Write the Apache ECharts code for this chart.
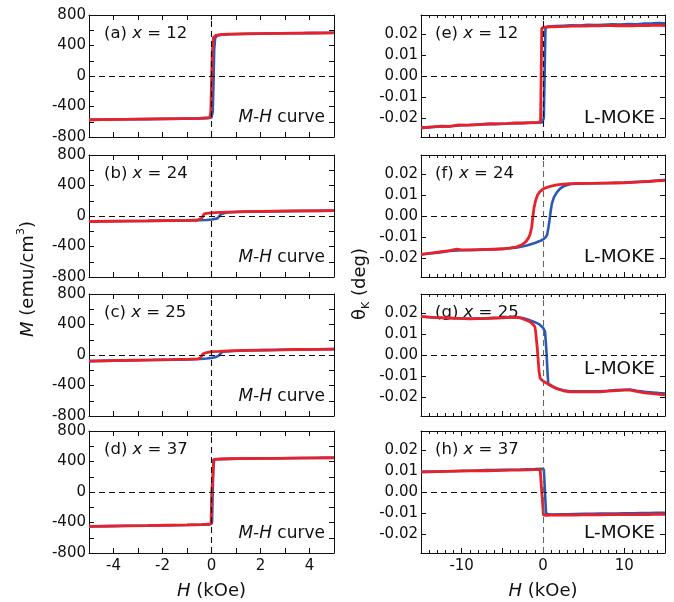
<!DOCTYPE html>
<html>
<head>
<meta charset="utf-8">
<script src="https://cdn.jsdelivr.net/npm/echarts@6/dist/echarts.min.js"></script>
<style>
html, body { margin: 0; padding: 0; background: #fff; }
#chart { width: 674px; height: 602px; }
</style>
</head>
<body>
<div id="chart"></div>
<script>
// M-H loops, H in kOe, M in emu/cm3. red = field sweep down, blue = sweep up
const redA = [[5,566],[4.2,564],[3.5,562],[2.8,560],[2,557],[1.3,553],[0.7,548],[0.35,541],[0.18,532],[0.08,505],[0.03,300],[0,-100],[-0.03,-480],[-0.07,-545],[-0.15,-552],[-0.5,-556],[-1.2,-559],[-2,-562],[-2.8,-565],[-3.6,-568],[-4.4,-571],[-5,-574]]
const blueA = [[-5,-575],[-4.3,-571],[-3.5,-568],[-2.7,-565],[-2,-562],[-1.2,-559],[-0.5,-556],[-0.15,-553],[0,-545],[0.05,-470],[0.08,-100],[0.11,350],[0.15,500],[0.25,532],[0.4,542],[0.8,548],[1.5,554],[2.2,557],[3,560],[3.8,562],[4.5,564],[5,567]]

const redB = [[5,70],[4.3,68],[3.5,66],[2.7,63],[2,60],[1.3,57],[0.7,52],[0.3,47],[0,42],[-0.2,35],[-0.3,27],[-0.36,15],[-0.4,-30],[-0.45,-50],[-0.6,-56],[-1,-58],[-1.8,-61],[-2.6,-64],[-3.4,-66],[-4.2,-69],[-5,-72]]
const blueB = [[-5,-73],[-4.2,-69],[-3.4,-66],[-2.6,-64],[-1.8,-61],[-1,-59],[-0.5,-56],[-0.2,-52],[0,-46],[0.15,-38],[0.25,-28],[0.32,-10],[0.38,22],[0.45,40],[0.6,46],[1,53],[1.6,57],[2.4,61],[3.2,64],[4,67],[5,70]]

const redC = [[5,77],[4.3,75],[3.5,72],[2.7,68],[2,65],[1.3,60],[0.7,54],[0.3,48],[0,44],[-0.2,30],[-0.35,16],[-0.42,8],[-0.45,-38],[-0.55,-50],[-0.9,-55],[-1.6,-60],[-2.4,-65],[-3.2,-69],[-4,-73],[-5,-80]]
const blueC = [[-5,-80],[-4,-74],[-3.2,-69],[-2.4,-65],[-1.6,-61],[-0.9,-57],[-0.45,-52],[-0.2,-45],[0,-38],[0.15,-30],[0.28,-12],[0.36,15],[0.45,42],[0.6,48],[0.9,53],[1.5,59],[2.2,64],[3,68],[4,73],[5,77]]

const redD = [[5,449],[4.2,447],[3.4,445],[2.6,442],[1.8,440],[1,437],[0.4,433],[0.1,429],[0.04,420],[0.01,0],[-0.02,-418],[-0.08,-424],[-0.4,-428],[-1,-432],[-1.8,-436],[-2.6,-440],[-3.4,-443],[-4.2,-447],[-5,-452]]
const blueD = [[-5,-452],[-4.2,-447],[-3.4,-443],[-2.6,-440],[-1.8,-436],[-1,-432],[-0.4,-428],[-0.08,-424],[0.02,-410],[0.05,0],[0.08,424],[0.2,430],[0.6,434],[1.2,438],[2,441],[2.8,443],[3.6,445],[4.4,447],[5,449]]

// L-MOKE loops, H in kOe, Kerr rotation in deg
const redE = [[15,0.0240],[14,0.0242],[13,0.0240],[12,0.0241],[11,0.0238],[10,0.0240],[9,0.0239],[8,0.0241],[7,0.0238],[6,0.0239],[5,0.0237],[4,0.0238],[3,0.0236],[2,0.0235],[1,0.0234],[0.2,0.0232],[-0.15,0.0228],[-0.3,-0.0215],[-0.6,-0.0221],[-1.5,-0.0222],[-2.5,-0.0224],[-3.5,-0.0223],[-4.5,-0.0226],[-5.5,-0.0228],[-6.5,-0.0227],[-7.5,-0.0230],[-8.5,-0.0232],[-9.5,-0.0234],[-10.5,-0.0233],[-11.5,-0.0240],[-12.5,-0.0238],[-13.5,-0.0242],[-14.3,-0.0245],[-15,-0.0246]]
const blueE = [[-15,-0.0245],[-14,-0.0243],[-13,-0.0241],[-12,-0.0240],[-11,-0.0238],[-10,-0.0234],[-9,-0.0233],[-8,-0.0231],[-7,-0.0229],[-6,-0.0229],[-5,-0.0227],[-4,-0.0226],[-3,-0.0224],[-2,-0.0223],[-1,-0.0222],[-0.1,-0.0221],[0.1,-0.0200],[0.3,0.0228],[0.6,0.0235],[1.5,0.0237],[2.5,0.0239],[3.5,0.0241],[4.5,0.0240],[5.5,0.0243],[6.5,0.0242],[7.5,0.0244],[8.5,0.0246],[9.5,0.0245],[10.5,0.0247],[11.5,0.0246],[12.5,0.0249],[13.5,0.0250],[14.3,0.0252],[15,0.0251]]

const redF = [[15,0.0170],[14,0.0167],[13,0.0164],[12,0.0162],[11,0.0160],[10,0.0158],[9,0.0157],[8,0.0156],[7,0.0156],[6,0.0155],[5,0.0155],[4,0.0154],[3.3,0.0154],[2.5,0.0152],[1.7,0.0148],[1,0.0142],[0.4,0.0135],[0,0.0128],[-0.4,0.0115],[-0.7,0.0097],[-0.9,0.0075],[-1.1,0.0040],[-1.25,-0.0005],[-1.4,-0.0056],[-1.6,-0.0088],[-1.8,-0.0105],[-2.1,-0.0122],[-2.6,-0.0137],[-3.3,-0.0148],[-4,-0.0152],[-5,-0.0157],[-6,-0.0158],[-7,-0.0159],[-8,-0.0160],[-9,-0.0161],[-10,-0.0161],[-10.6,-0.0158],[-11.5,-0.0165],[-12.5,-0.0170],[-13.5,-0.0175],[-14.3,-0.0179],[-15,-0.0182]]
const blueF = [[-15,-0.0183],[-14,-0.0178],[-13,-0.0174],[-11.5,-0.0166],[-10,-0.0163],[-8,-0.0161],[-6,-0.0158],[-4,-0.0153],[-3,-0.0148],[-2,-0.0140],[-1,-0.0128],[-0.3,-0.0118],[0,-0.0111],[0.3,-0.0102],[0.5,-0.0090],[0.65,-0.0060],[0.8,-0.0020],[0.95,0.0025],[1.1,0.0060],[1.35,0.0090],[1.7,0.0112],[2.1,0.0130],[2.6,0.0143],[3.3,0.0151],[4,0.0154],[5,0.0155],[6,0.0156],[7,0.0156],[8,0.0157],[9,0.0158],[10,0.0159],[11,0.0161],[12,0.0163],[13,0.0165],[14,0.0168],[15,0.0171]]

const redG = [[15,-0.0190],[14.3,-0.0187],[13.5,-0.0184],[12.5,-0.0180],[11.5,-0.0173],[10.7,-0.0167],[10,-0.0167],[9,-0.0169],[8,-0.0172],[7,-0.0175],[6,-0.0175],[5,-0.0174],[4,-0.0175],[3.3,-0.0175],[2.5,-0.0170],[1.7,-0.0160],[0.9,-0.0143],[0.4,-0.0133],[0,-0.0124],[-0.35,-0.0111],[-0.5,-0.0075],[-0.6,-0.0020],[-0.7,0.0030],[-0.8,0.0070],[-0.9,0.0110],[-1.0,0.0135],[-1.3,0.0148],[-1.6,0.0158],[-2.2,0.0168],[-2.8,0.0176],[-3.3,0.0180],[-4,0.0179],[-5,0.0177],[-6,0.0176],[-7,0.0174],[-8,0.0173],[-9,0.0172],[-10.4,0.0174],[-11.5,0.0176],[-12.5,0.0177],[-13.5,0.0179],[-14.3,0.0181],[-15,0.0182]]
const blueG = [[-15,0.0183],[-14.3,0.0181],[-13.5,0.0179],[-12.5,0.0177],[-11.5,0.0176],[-10.4,0.0175],[-9,0.0172],[-8,0.0173],[-7,0.0174],[-6,0.0176],[-5,0.0177],[-4,0.0179],[-3.3,0.0180],[-2.5,0.0176],[-1.8,0.0168],[-1,0.0156],[-0.5,0.0147],[0,0.0130],[0.25,0.0111],[0.35,0.0060],[0.45,0.0000],[0.55,-0.0080],[0.65,-0.0140],[0.8,-0.0148],[1.2,-0.0152],[1.8,-0.0160],[2.5,-0.0168],[3.3,-0.0172],[4,-0.0173],[5,-0.0172],[6,-0.0173],[7,-0.0172],[8,-0.0170],[9,-0.0167],[10,-0.0165],[10.7,-0.0164],[11.5,-0.0170],[12.5,-0.0175],[13.5,-0.0178],[14.3,-0.0181],[15,-0.0183]]

const redH = [[15,-0.0106],[14,-0.0105],[13,-0.0107],[12,-0.0106],[11,-0.0108],[10,-0.0107],[9,-0.0108],[8,-0.0107],[7,-0.0109],[6,-0.0108],[5,-0.0109],[4,-0.0110],[3,-0.0109],[2,-0.0110],[1,-0.0110],[0.3,-0.0111],[0.05,-0.0109],[-0.35,0.0106],[-1,0.0106],[-2,0.0105],[-3,0.0104],[-4,0.0104],[-5,0.0103],[-6,0.0102],[-7,0.0101],[-8,0.0101],[-9,0.0100],[-10,0.0099],[-11,0.0099],[-12,0.0098],[-13,0.0097],[-14,0.0096],[-15,0.0095]]
const blueH = [[-15,0.0096],[-14,0.0097],[-13,0.0097],[-12,0.0099],[-11,0.0099],[-10,0.0101],[-9,0.0101],[-8,0.0102],[-7,0.0104],[-6,0.0104],[-5,0.0105],[-4,0.0106],[-3,0.0106],[-2,0.0108],[-1,0.0109],[-0.3,0.0110],[0.1,0.0108],[0.38,-0.0104],[1,-0.0107],[2,-0.0106],[3,-0.0106],[4,-0.0105],[5,-0.0104],[6,-0.0104],[7,-0.0103],[8,-0.0103],[9,-0.0102],[10,-0.0101],[11,-0.0101],[12,-0.0100],[13,-0.0100],[14,-0.0099],[15,-0.0099]]

const tags = ['(a)', '(b)', '(c)', '(d)', '(e)', '(f)', '(g)', '(h)']
const xValues = [12, 24, 25, 37, 12, 24, 25, 37]
const reds = [redA, redB, redC, redD, redE, redF, redG, redH]
const blues = [blueA, blueB, blueC, blueD, blueE, blueF, blueG, blueH]

const mhTicks = [-800, -400, 0, 400, 800]
const mokeTicks = [-0.02, -0.01, 0, 0.01, 0.02]
const mhHLabels = [-4, -2, 0, 2, 4]
const mokeHLabels = [-10, 0, 10]

// layout
const font = 'DejaVu Sans'
const ink = '#111'
const redColor = '#e8212b'
const blueColor = '#2a58b4'
const tops = [15, 155, 294, 431]
const gridH = 122
const colLeft = [89, 421]
const colWidth = [245, 244]
const mokeLabelDy = [103, 102, 75, 102]

let grids = [], xAxes = [], yAxes = [], series = [], graphics = []

for (let i = 0; i < 8; i++) {
  const col = i < 4 ? 0 : 1
  const row = i % 4
  const mh = col === 0
  const left = colLeft[col]
  const top = tops[row]

  grids.push({ left: left, top: top, width: colWidth[col], height: gridH, outerBoundsMode: 'none' })

  ;['bottom', 'top'].forEach(pos => {
    xAxes.push({
      type: 'value', gridIndex: i, position: pos,
      min: mh ? -5 : -15, max: mh ? 5 : 15, interval: mh ? 1 : 5,
      axisLine: { show: true, onZero: false, lineStyle: { color: ink, width: 1 } },
      axisTick: { show: true, inside: true, length: 5, lineStyle: { color: ink } },
      minorTick: { show: !mh, splitNumber: 5, length: 3, lineStyle: { color: ink } },
      splitLine: { show: false },
      axisLabel: {
        show: pos === 'bottom' && row === 3,
        customValues: mh ? mhHLabels : mokeHLabels,
        margin: 6, fontSize: 15, fontFamily: font, color: ink
      }
    })
  })

  ;['left', 'right'].forEach(pos => {
    yAxes.push({
      type: 'value', gridIndex: i, position: pos,
      min: mh ? -800 : -0.029, max: mh ? 800 : 0.029,
      interval: mh ? 200 : undefined,
      axisLine: { show: true, onZero: false, lineStyle: { color: ink, width: 1 } },
      axisTick: { show: true, inside: true, length: 5, lineStyle: { color: ink }, customValues: mh ? undefined : mokeTicks },
      splitLine: { show: false },
      axisLabel: {
        show: pos === 'left',
        customValues: mh ? mhTicks : mokeTicks,
        formatter: mh ? (v => String(v)) : (v => v.toFixed(2)),
        margin: 3, fontSize: 15, fontFamily: font, color: ink
      }
    })
  })

  series.push({
    type: 'line', xAxisIndex: 2 * i, yAxisIndex: 2 * i,
    data: blues[i], showSymbol: false, symbol: 'none', z: 2,
    lineStyle: { color: blueColor, width: 2.6 },
    markLine: {
      silent: true, symbol: 'none', label: { show: false },
      lineStyle: { type: [6, 4], width: 1.1, color: ink },
      data: [
        { yAxis: 0 },
        { xAxis: 0, lineStyle: { color: i >= 5 ? '#666' : ink } }
      ]
    }
  })
  series.push({
    type: 'line', xAxisIndex: 2 * i, yAxisIndex: 2 * i,
    data: reds[i], showSymbol: false, symbol: 'none', z: 3,
    lineStyle: { color: redColor, width: 2.8 }
  })

  // panel tag, top-left
  graphics.push({
    type: 'text', x: left + (mh ? 15 : 14), y: top + 19,
    style: {
      text: '{n|' + tags[i] + ' }{i|x}{n| = ' + xValues[i] + '}',
      align: 'left', verticalAlign: 'middle', fill: ink,
      rich: {
        n: { fontFamily: font, fontSize: 16.5, fill: ink },
        i: { fontFamily: font, fontSize: 16.5, fontStyle: 'italic', fill: ink }
      }
    }
  })
  // method label, bottom-right
  graphics.push({
    type: 'text',
    x: left + colWidth[col] - (mh ? 9 : 10),
    y: top + (mh ? 103 : mokeLabelDy[row]),
    style: mh ? {
      text: '{i|M-H}{n| curve}',
      align: 'right', verticalAlign: 'middle', fill: ink,
      rich: {
        n: { fontFamily: font, fontSize: 17, fill: ink },
        i: { fontFamily: font, fontSize: 17, fontStyle: 'italic', fill: ink }
      }
    } : {
      text: 'L-MOKE', fontFamily: font, fontSize: 18.5,
      align: 'right', verticalAlign: 'middle', fill: ink
    }
  })
}

// axis titles
const titleRich = {
  n: { fontFamily: font, fontSize: 18, fill: ink, lineHeight: 24 },
  i: { fontFamily: font, fontSize: 18, fontStyle: 'italic', fill: ink, lineHeight: 24 },
  s: { fontFamily: font, fontSize: 11, fill: ink, verticalAlign: 'top', lineHeight: 12 },
  b: { fontFamily: font, fontSize: 11, fill: ink, verticalAlign: 'bottom', lineHeight: 12 }
}
graphics.push({
  type: 'text', x: 28, y: 279, rotation: Math.PI / 2,
  style: { text: '{i|M}{n| (emu/cm}{s|3}{n|)}', align: 'center', verticalAlign: 'middle', rich: titleRich }
})
graphics.push({
  type: 'text', x: 360, y: 284, rotation: Math.PI / 2,
  style: { text: '{n|θ}{b|K}{n| (deg)}', align: 'center', verticalAlign: 'middle', rich: titleRich }
})
;[0, 1].forEach(col => {
  graphics.push({
    type: 'text', x: colLeft[col] + colWidth[col] / 2, y: 591,
    style: { text: '{i|H}{n| (kOe)}', align: 'center', verticalAlign: 'middle', rich: titleRich }
  })
})

const chart = echarts.init(document.getElementById('chart'), null, { renderer: 'canvas' })
chart.setOption({
  animation: false,
  backgroundColor: '#fff',
  grid: grids,
  xAxis: xAxes,
  yAxis: yAxes,
  series: series,
  graphic: graphics
})
</script>
</body>
</html>
